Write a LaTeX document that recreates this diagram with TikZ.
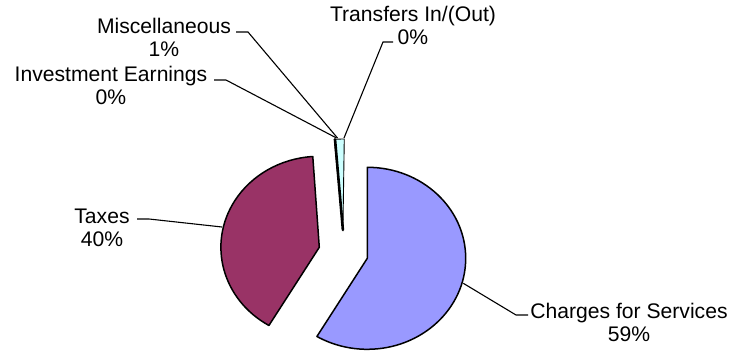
\documentclass[tikz,border=0pt]{standalone}
\usepackage{fontspec}
\setmainfont{Liberation Sans}
\definecolor{chgcol}{HTML}{9999FF}
\definecolor{taxcol}{HTML}{993366}
\definecolor{misccol}{HTML}{CCFFFF}
\begin{document}
\begin{tikzpicture}[x=1bp,y=1bp,
  lbl/.style={align=center, inner sep=0pt, font=\fontsize{21.2}{23}\selectfont, anchor=base},
  slice/.style={draw=black, line width=1.5bp, line join=round},
  leader/.style={draw=black, line width=1.1bp}]
\useasboundingbox (0,0) rectangle (735,354);
% slice centres
\coordinate (cc) at (367.3,95.7);
\coordinate (tc) at (319.3,106.7);
\coordinate (mc) at (342.9,124.0);
% slices
\filldraw[slice, fill=chgcol] (cc) -- ++(90:98.4 and 91)
  arc[start angle=90, end angle=-120.8, x radius=98.4, y radius=91] -- cycle;
\filldraw[slice, fill=taxcol] (tc) -- ++(-120.8:98.4 and 91)
  arc[start angle=-120.8, end angle=-266.2, x radius=98.4, y radius=91] -- cycle;
\filldraw[slice, fill=misccol, line width=0.9bp] (mc) -- ++(95:98.4 and 91)
  arc[start angle=95, end angle=89.2, x radius=98.4, y radius=91] -- cycle;
\draw[line width=2.6bp, line cap=round] (mc) -- ++(94.6:98.4 and 91);
% labels (anchored at the baseline of the last line)
\node[lbl] (misc) at (164,298) {Miscellaneous\\1\%};
\node[lbl] (inv) at (111,250) {Investment Earnings\\0\%};
\node[lbl] (trans) at (413,310) {Transfers In/(Out)\\0\%};
\node[lbl] (tax) at (102,108) {Taxes\\40\%};
\node[lbl] (chg) at (629,13) {Charges for Services\\59\%};
% leader points
\coordinate (m1) at (236,322); \coordinate (m2) at (248,322); \coordinate (m3) at (337.5,216);
\coordinate (i1) at (214,274); \coordinate (i2) at (226,274); \coordinate (i3) at (336.5,216);
\coordinate (t1) at (393,312); \coordinate (t2) at (383,312); \coordinate (t3) at (344,216);
\coordinate (x1) at (137,135); \coordinate (x2) at (149,135); \coordinate (x3) at (222,127);
\coordinate (c1) at (528,39); \coordinate (c2) at (516,39); \coordinate (c3) at (463.3,70.7);
\draw[leader] (m1) -- (m2) -- (m3);
\draw[leader] (i1) -- (i2) -- (i3);
\draw[leader] (t1) -- (t2) -- (t3);
\draw[leader] (x1) -- (x2) -- (x3);
\draw[leader] (c1) -- (c2) -- (c3);
\end{tikzpicture}
\end{document}
